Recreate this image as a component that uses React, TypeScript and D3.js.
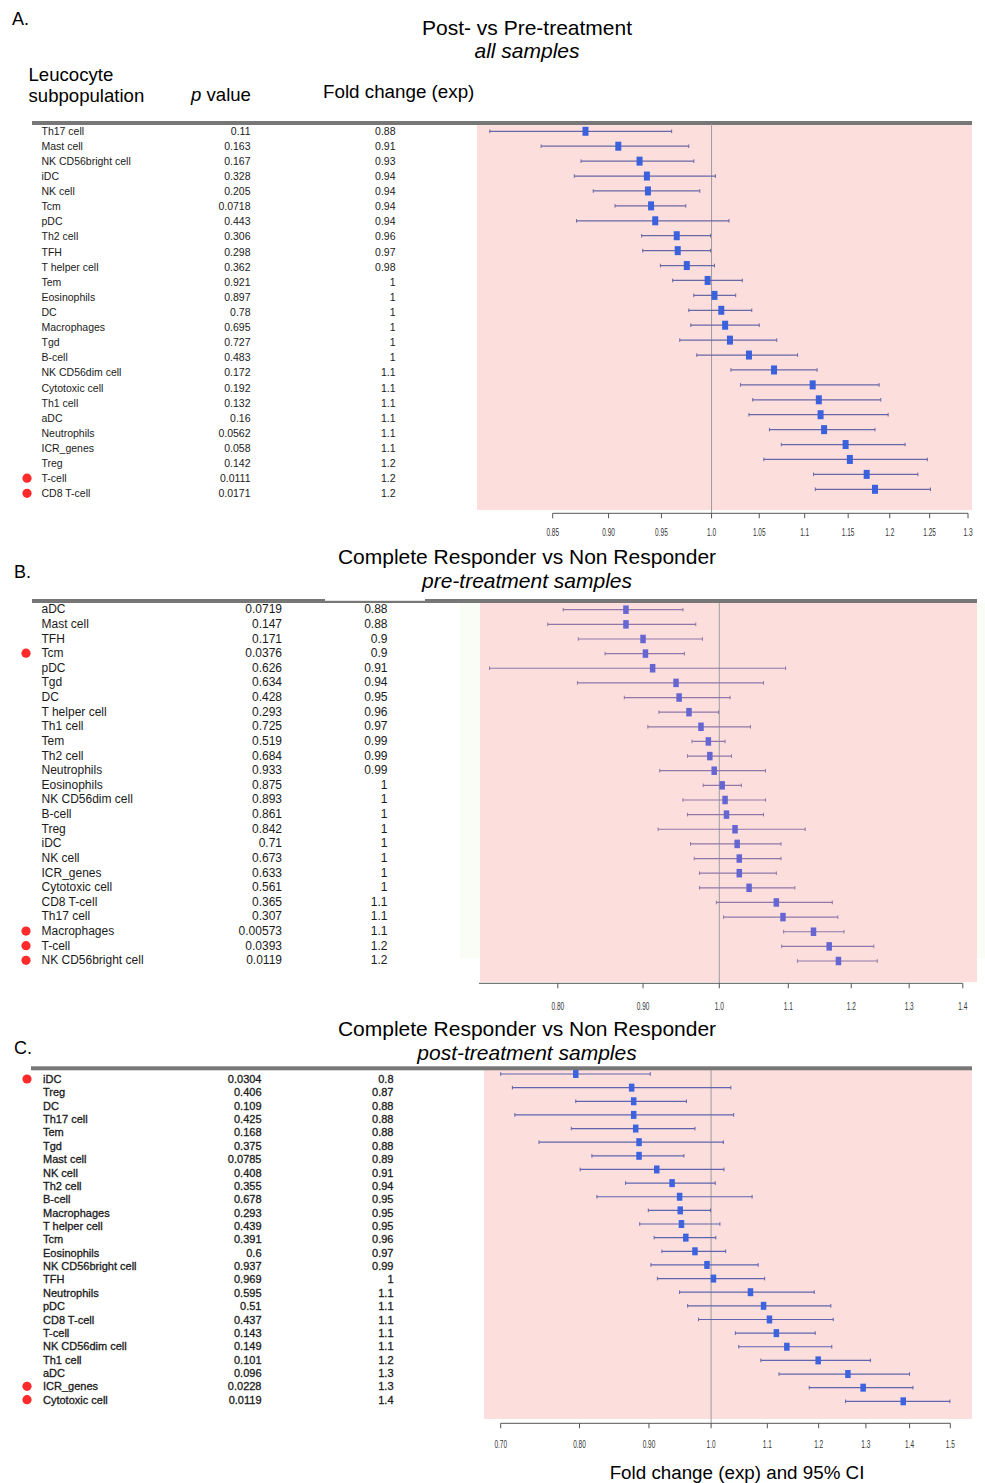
import React from 'react';
import * as d3 from 'd3';

// ---------- Panel A: post- vs pre-treatment, all samples ----------
const aCells = ['Th17 cell', 'Mast cell', 'NK CD56bright cell', 'iDC', 'NK cell', 'Tcm', 'pDC', 'Th2 cell', 'TFH', 'T helper cell', 'Tem', 'Eosinophils', 'DC', 'Macrophages', 'Tgd', 'B-cell', 'NK CD56dim cell', 'Cytotoxic cell', 'Th1 cell', 'aDC', 'Neutrophils', 'ICR_genes', 'Treg', 'T-cell', 'CD8 T-cell'];
const aP = ['0.11', '0.163', '0.167', '0.328', '0.205', '0.0718', '0.443', '0.306', '0.298', '0.362', '0.921', '0.897', '0.78', '0.695', '0.727', '0.483', '0.172', '0.192', '0.132', '0.16', '0.0562', '0.058', '0.142', '0.0111', '0.0171'];
const aFC = ['0.88', '0.91', '0.93', '0.94', '0.94', '0.94', '0.94', '0.96', '0.97', '0.98', '1', '1', '1', '1', '1', '1', '1.1', '1.1', '1.1', '1.1', '1.1', '1.1', '1.2', '1.2', '1.2'];
const aEst = [0.879, 0.909, 0.929, 0.936, 0.937, 0.940, 0.944, 0.965, 0.966, 0.975, 0.996, 1.003, 1.010, 1.014, 1.019, 1.039, 1.066, 1.109, 1.116, 1.118, 1.122, 1.147, 1.152, 1.172, 1.182];
const aLo = [0.797, 0.840, 0.875, 0.869, 0.886, 0.906, 0.871, 0.931, 0.932, 0.949, 0.961, 0.982, 0.977, 0.979, 0.968, 0.985, 1.020, 1.030, 1.043, 1.039, 1.061, 1.074, 1.055, 1.110, 1.112];
const aHi = [0.960, 0.977, 0.982, 1.004, 0.988, 0.974, 1.018, 0.999, 0.999, 1.003, 1.032, 1.025, 1.042, 1.050, 1.069, 1.092, 1.114, 1.187, 1.189, 1.198, 1.182, 1.219, 1.247, 1.235, 1.251];
const aTicks = [0.85, 0.9, 0.95, 1.0, 1.05, 1.1, 1.15, 1.2, 1.25, 1.3];
const aTickLabels = ['0.85', '0.90', '0.95', '1.0', '1.05', '1.1', '1.15', '1.2', '1.25', '1.3'];

// ---------- Panel B: CR vs NR, pre-treatment ----------
const bCells = ['aDC', 'Mast cell', 'TFH', 'Tcm', 'pDC', 'Tgd', 'DC', 'T helper cell', 'Th1 cell', 'Tem', 'Th2 cell', 'Neutrophils', 'Eosinophils', 'NK CD56dim cell', 'B-cell', 'Treg', 'iDC', 'NK cell', 'ICR_genes', 'Cytotoxic cell', 'CD8 T-cell', 'Th17 cell', 'Macrophages', 'T-cell', 'NK CD56bright cell'];
const bP = ['0.0719', '0.147', '0.171', '0.0376', '0.626', '0.634', '0.428', '0.293', '0.725', '0.519', '0.684', '0.933', '0.875', '0.893', '0.861', '0.842', '0.71', '0.673', '0.633', '0.561', '0.365', '0.307', '0.00573', '0.0393', '0.0119'];
const bFC = ['0.88', '0.88', '0.9', '0.9', '0.91', '0.94', '0.95', '0.96', '0.97', '0.99', '0.99', '0.99', '1', '1', '1', '1', '1', '1', '1', '1', '1.1', '1.1', '1.1', '1.2', '1.2'];
const bEst = [0.879, 0.879, 0.900, 0.903, 0.912, 0.942, 0.946, 0.959, 0.975, 0.985, 0.987, 0.993, 1.004, 1.008, 1.010, 1.022, 1.025, 1.028, 1.028, 1.042, 1.082, 1.092, 1.139, 1.164, 1.179];
const bLo = [0.806, 0.789, 0.823, 0.854, 0.728, 0.822, 0.877, 0.920, 0.906, 0.963, 0.957, 0.921, 0.978, 0.951, 0.957, 0.919, 0.961, 0.966, 0.973, 0.973, 0.996, 1.006, 1.093, 1.090, 1.114];
const bHi = [0.951, 0.968, 0.977, 0.953, 1.096, 1.063, 1.015, 0.999, 1.044, 1.008, 1.017, 1.066, 1.031, 1.066, 1.063, 1.126, 1.089, 1.089, 1.082, 1.110, 1.169, 1.178, 1.188, 1.238, 1.244];
const bTicks = [0.8, 0.9, 1.0, 1.1, 1.2, 1.3, 1.4];
const bTickLabels = ['0.80', '0.90', '1.0', '1.1', '1.2', '1.3', '1.4'];

// ---------- Panel C: CR vs NR, post-treatment ----------
const cCells = ['iDC', 'Treg', 'DC', 'Th17 cell', 'Tem', 'Tgd', 'Mast cell', 'NK cell', 'Th2 cell', 'B-cell', 'Macrophages', 'T helper cell', 'Tcm', 'Eosinophils', 'NK CD56bright cell', 'TFH', 'Neutrophils', 'pDC', 'CD8 T-cell', 'T-cell', 'NK CD56dim cell', 'Th1 cell', 'aDC', 'ICR_genes', 'Cytotoxic cell'];
const cP = ['0.0304', '0.406', '0.109', '0.425', '0.168', '0.375', '0.0785', '0.408', '0.355', '0.678', '0.293', '0.439', '0.391', '0.6', '0.937', '0.969', '0.595', '0.51', '0.437', '0.143', '0.149', '0.101', '0.096', '0.0228', '0.0119'];
const cFC = ['0.8', '0.87', '0.88', '0.88', '0.88', '0.88', '0.89', '0.91', '0.94', '0.95', '0.95', '0.95', '0.96', '0.97', '0.99', '1', '1.1', '1.1', '1.1', '1.1', '1.1', '1.2', '1.3', '1.3', '1.4'];
const cEst = [0.795, 0.874, 0.877, 0.877, 0.880, 0.885, 0.885, 0.912, 0.936, 0.948, 0.949, 0.951, 0.958, 0.973, 0.993, 1.004, 1.069, 1.093, 1.104, 1.117, 1.137, 1.199, 1.261, 1.294, 1.385];
const cLo = [0.700, 0.714, 0.795, 0.717, 0.789, 0.747, 0.817, 0.801, 0.865, 0.824, 0.899, 0.886, 0.908, 0.920, 0.903, 0.913, 0.948, 0.961, 0.979, 1.042, 1.048, 1.088, 1.122, 1.181, 1.256];
const cHi = [0.902, 1.034, 0.959, 1.039, 0.973, 1.021, 0.955, 1.022, 1.007, 1.072, 0.999, 1.015, 1.008, 1.025, 1.083, 1.095, 1.191, 1.225, 1.230, 1.193, 1.227, 1.310, 1.400, 1.408, 1.499];
const cTicks = [0.7, 0.8, 0.9, 1.0, 1.1, 1.2, 1.3, 1.4, 1.5];
const cTickLabels = ['0.70', '0.80', '0.90', '1.0', '1.1', '1.2', '1.3', '1.4', '1.5'];

const FONT = '"Liberation Sans", Arial, Helvetica, sans-serif';
const PINK = '#fcdedd';

function ForestPanel({ cells, pvals, fcs, est, lo, hi, ticks, tickLabels, cfg }) {
  const n = cells.length;
  const idx = d3.range(n);
  const yText = d3.scalePoint().domain(idx).range(cfg.textY);
  const yPlot = d3.scalePoint().domain(idx).range(cfg.plotY);
  const x = d3.scaleLog().domain(cfg.domain).range(cfg.range);
  const ref = x(1);

  return (
    <g>
      {cfg.backdrop && (
        <rect x={cfg.backdrop[0]} y={cfg.backdrop[1]} width={cfg.backdrop[2]} height={cfg.backdrop[3]} fill="#fafcf6" />
      )}
      <rect x={cfg.pink[0]} y={cfg.pink[1]} width={cfg.pink[2] - cfg.pink[0]} height={cfg.pink[3] - cfg.pink[1]} fill={PINK} />
      {/* header rule */}
      <rect x={cfg.rule[0]} y={cfg.rule[2] - 2} width={cfg.rule[1] - cfg.rule[0]} height={4} fill="#777" />
      {cfg.ruleGap && (
        <rect x={cfg.ruleGap[0]} y={cfg.rule[2] - 2.2} width={cfg.ruleGap[1] - cfg.ruleGap[0]} height={2} fill="#fff" />
      )}
      {/* reference line */}
      <line x1={ref} x2={ref} y1={cfg.pink[1]} y2={cfg.axisY} stroke="#9c9c9c" strokeWidth={1} />

      {/* table */}
      <g fontFamily={FONT} fontSize={cfg.fontSize} fill="#1a1a1a" stroke={cfg.heavy ? '#1a1a1a' : 'none'} strokeWidth={cfg.heavy ? 0.3 : 0}>
        {idx.map(i => {
          const y = yText(i);
          return (
            <g key={i}>
              <text x={cfg.nameX} y={y} dominantBaseline="central">{cells[i]}</text>
              <text x={cfg.pX} y={y} textAnchor="end" dominantBaseline="central">{pvals[i]}</text>
              <text x={cfg.fcX} y={y} textAnchor="end" dominantBaseline="central">{fcs[i]}</text>
            </g>
          );
        })}
      </g>
      {idx.filter(i => +pvals[i] < 0.05).map(i => (
        <circle key={i} cx={cfg.dotX} cy={yText(i)} r={4.6} fill="#ff2b2b" />
      ))}

      {/* confidence intervals */}
      {idx.map(i => {
        const y = yPlot(i);
        const x0 = x(lo[i]);
        const x1 = x(hi[i]);
        const xm = x(est[i]);
        return (
          <g key={i}>
            <line x1={x0} x2={x1} y1={y} y2={y} stroke={cfg.lineColor} strokeWidth={1.2} />
            <line x1={x0} x2={x0} y1={y - 1.8} y2={y + 1.8} stroke={cfg.lineColor} strokeWidth={1} />
            <line x1={x1} x2={x1} y1={y - 1.8} y2={y + 1.8} stroke={cfg.lineColor} strokeWidth={1} />
            <rect x={xm - cfg.box[0] / 2} y={y - cfg.box[1] / 2} width={cfg.box[0]} height={cfg.box[1]} fill={cfg.boxColor} />
          </g>
        );
      })}

      {/* x axis */}
      <line x1={cfg.axisLine[0]} x2={cfg.axisLine[1]} y1={cfg.axisY} y2={cfg.axisY} stroke="#555" strokeWidth={1} />
      {ticks.map((t, i) => (
        <g key={t} transform={`translate(${x(t)},0)`}>
          <line y1={cfg.axisY} y2={cfg.axisY + 5} stroke="#555" strokeWidth={1} />
          <text
            transform={`translate(0,${cfg.tickLabelY}) scale(0.62,1)`}
            textAnchor="middle"
            dominantBaseline="central"
            fontFamily={FONT}
            fontSize={10.5}
            fill="#333"
          >
            {tickLabels[i]}
          </text>
        </g>
      ))}
    </g>
  );
}

const cfgA = {
  textY: [130.7, 493.3], plotY: [131.3, 489.3],
  domain: [0.85, 1.3], range: [552.7, 968],
  pink: [477, 124, 972, 510], rule: [32, 972, 123],
  axisY: 513.3, axisLine: [552.7, 968], tickLabelY: 532,
  fontSize: 10.5, nameX: 41.5, pX: 250.5, fcX: 395.5, dotX: 27,
  lineColor: '#6868a6', boxColor: '#3b62dc', box: [6, 9]
};
const cfgB = {
  textY: [609.3, 960.3], plotY: [609.7, 961],
  domain: [0.8, 1.4], range: [557.8, 962.8],
  pink: [480, 603, 977, 982], rule: [32, 977, 601], ruleGap: [325, 425],
  backdrop: [460, 603, 525, 355],
  axisY: 983.3, axisLine: [479, 962.8], tickLabelY: 1006,
  fontSize: 12, nameX: 41.5, pX: 282, fcX: 387.5, dotX: 26,
  lineColor: '#8f78a8', boxColor: '#6666d2', box: [5.5, 8.5]
};
const cfgC = {
  textY: [1079, 1399.7], plotY: [1074, 1401.3],
  domain: [0.7, 1.5], range: [500.7, 950.3],
  pink: [484, 1070, 972, 1419], rule: [31, 972, 1068.3],
  axisY: 1423.3, axisLine: [500.7, 950.3], tickLabelY: 1444,
  fontSize: 11, nameX: 43, pX: 261.5, fcX: 393.5, dotX: 27, heavy: true,
  lineColor: '#5f64ae', boxColor: '#3d63df', box: [5.5, 8]
};

export default function App() {
  return (
    <svg
      width={985}
      height={1483}
      viewBox="0 0 985 1483"
      style={{ position: 'absolute', left: 0, top: 0, background: '#fff' }}
    >
      <rect width={985} height={1483} fill="#fff" />

      {/* Panel headings */}
      <g fontFamily={FONT} fill="#000">
        <text x={12} y={25} fontSize={18}>A.</text>
        <text x={527} y={34.5} fontSize={21} textAnchor="middle">Post- vs Pre-treatment</text>
        <text x={527} y={58} fontSize={21} textAnchor="middle" fontStyle="italic">all samples</text>
        <text x={28.5} y={80.5} fontSize={18.6}>Leucocyte</text>
        <text x={28.5} y={102} fontSize={18.6}>subpopulation</text>
        <text x={191} y={101} fontSize={18.6}><tspan fontStyle="italic">p</tspan> value</text>
        <text x={323} y={97.5} fontSize={18.8}>Fold change (exp)</text>

        <text x={14} y={578} fontSize={18}>B.</text>
        <text x={527} y={563.5} fontSize={21} textAnchor="middle">Complete Responder vs Non Responder</text>
        <text x={527} y={588} fontSize={21} textAnchor="middle" fontStyle="italic">pre-treatment samples</text>

        <text x={14} y={1054} fontSize={18}>C.</text>
        <text x={527} y={1035.5} fontSize={21} textAnchor="middle">Complete Responder vs Non Responder</text>
        <text x={527} y={1059.5} fontSize={21} textAnchor="middle" fontStyle="italic">post-treatment samples</text>

        <text x={737} y={1479} fontSize={18.8} textAnchor="middle">Fold change (exp) and 95% CI</text>
      </g>

      <ForestPanel cells={aCells} pvals={aP} fcs={aFC} est={aEst} lo={aLo} hi={aHi} ticks={aTicks} tickLabels={aTickLabels} cfg={cfgA} />
      <ForestPanel cells={bCells} pvals={bP} fcs={bFC} est={bEst} lo={bLo} hi={bHi} ticks={bTicks} tickLabels={bTickLabels} cfg={cfgB} />
      <ForestPanel cells={cCells} pvals={cP} fcs={cFC} est={cEst} lo={cLo} hi={cHi} ticks={cTicks} tickLabels={cTickLabels} cfg={cfgC} />
    </svg>
  );
}
